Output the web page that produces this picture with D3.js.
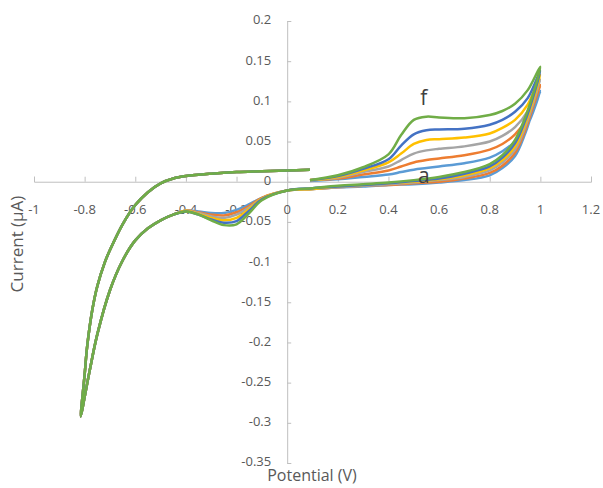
<!DOCTYPE html>
<html>
<head>
<meta charset="utf-8">
<script src="https://cdn.jsdelivr.net/npm/d3@7"></script>
<style>
  body { margin: 0; background: #fff; }
  text { font-family: "Open Sans", sans-serif; fill: #595959; }
</style>
</head>
<body>
<script>
// cyclic voltammograms a..f, potential in V, current in uA

var width = 603;
var height = 488;

var seriesNames = ['a', 'b', 'c', 'd', 'e', 'f'];
var seriesColors = ['#5B9BD5', '#ED7D31', '#A5A5A5', '#FFC000', '#4472C4', '#70AD47'];

var xTicks = [-1, -0.8, -0.6, -0.4, -0.2, 0, 0.2, 0.4, 0.6, 0.8, 1, 1.2];
var yTicks = [0.2, 0.15, 0.1, 0.05, 0, -0.05, -0.1, -0.15, -0.2, -0.25, -0.3, -0.35];

// forward scan 0.09 -> 1.0
var forwardE = [0.09, 0.2, 0.3, 0.4, 0.45, 0.5, 0.55, 0.6, 0.7, 0.8, 0.85, 0.9, 0.95, 1.0];
var forwardI = [
  [0.001, 0.003, 0.006, 0.009, 0.012, 0.015, 0.017, 0.019, 0.023, 0.030, 0.038, 0.050, 0.071, 0.113],
  [0.002, 0.004, 0.009, 0.014, 0.019, 0.024, 0.027, 0.029, 0.033, 0.040, 0.047, 0.059, 0.080, 0.120],
  [0.002, 0.005, 0.012, 0.019, 0.027, 0.035, 0.039, 0.041, 0.044, 0.050, 0.057, 0.068, 0.088, 0.127],
  [0.002, 0.006, 0.014, 0.024, 0.035, 0.047, 0.052, 0.053, 0.055, 0.060, 0.067, 0.077, 0.096, 0.133],
  [0.002, 0.007, 0.016, 0.028, 0.045, 0.059, 0.064, 0.065, 0.066, 0.071, 0.077, 0.087, 0.104, 0.138],
  [0.002, 0.008, 0.018, 0.034, 0.058, 0.077, 0.081, 0.080, 0.079, 0.083, 0.088, 0.097, 0.114, 0.143]
];

// reverse scan 0.97 -> -0.4 (per curve)
var reverseE = [0.97, 0.94, 0.9, 0.85, 0.8, 0.7, 0.6, 0.5, 0.4, 0.3, 0.2, 0.1, 0.0,
  -0.1, -0.15, -0.2, -0.25, -0.3, -0.35, -0.4];
var reverseI = [
  [0.088, 0.060, 0.032, 0.017, 0.008, 0.002, -0.001, -0.003, -0.004, -0.006, -0.007, -0.009, -0.011,
   -0.020, -0.028, -0.035, -0.039, -0.039, -0.037, -0.036],
  [0.092, 0.064, 0.036, 0.020, 0.011, 0.004, 0.000, -0.002, -0.004, -0.005, -0.007, -0.009, -0.011,
   -0.020, -0.030, -0.038, -0.042, -0.041, -0.038, -0.036],
  [0.096, 0.068, 0.040, 0.024, 0.014, 0.006, 0.002, -0.001, -0.003, -0.005, -0.007, -0.009, -0.011,
   -0.021, -0.032, -0.041, -0.045, -0.043, -0.039, -0.036],
  [0.100, 0.072, 0.044, 0.027, 0.017, 0.008, 0.003, 0.000, -0.002, -0.004, -0.006, -0.009, -0.011,
   -0.021, -0.034, -0.045, -0.048, -0.045, -0.040, -0.036],
  [0.104, 0.076, 0.048, 0.030, 0.019, 0.010, 0.004, 0.001, -0.002, -0.004, -0.006, -0.008, -0.011,
   -0.022, -0.036, -0.049, -0.051, -0.047, -0.041, -0.037],
  [0.108, 0.080, 0.052, 0.033, 0.022, 0.012, 0.006, 0.002, -0.001, -0.003, -0.005, -0.008, -0.011,
   -0.023, -0.039, -0.053, -0.054, -0.048, -0.041, -0.037]
];

// common cathodic tail -0.45 -> -0.815
var tailE = [-0.45, -0.5, -0.55, -0.6, -0.65, -0.7, -0.75, -0.78, -0.8, -0.815];
var tailI = [-0.041, -0.048, -0.058, -0.073, -0.098, -0.135, -0.19, -0.235, -0.268, -0.292];

// return scan -0.8 -> 0.09 (common)
var returnE = [-0.8, -0.79, -0.77, -0.75, -0.72, -0.7, -0.65, -0.6, -0.55, -0.5, -0.45, -0.4, -0.3, -0.2, -0.1, 0, 0.09];
var returnI = [-0.24, -0.205, -0.16, -0.13, -0.1, -0.085, -0.053, -0.029, -0.013, -0.002, 0.004, 0.007, 0.010, 0.012, 0.013, 0.014, 0.015];

var svg = d3.select('body').append('svg')
  .attr('width', width)
  .attr('height', height);

var x = d3.scaleLinear().domain([-1, 1.2]).range([34, 591]);
var y = d3.scaleLinear().domain([-0.35, 0.2]).range([463, 21]);

// axes
svg.append('g').attr('transform', 'translate(0,' + y(0) + ')')
  .call(d3.axisTop(x).tickValues(xTicks).tickSize(5).tickFormat(''));
svg.append('g').attr('transform', 'translate(' + x(0) + ',0)')
  .call(d3.axisRight(y).tickValues(yTicks).tickSize(4).tickFormat(''));
svg.selectAll('.domain, .tick line').attr('stroke', '#BFBFBF');

svg.append('g').selectAll('text').data(xTicks).enter().append('text')
  .attr('x', function(d){ return x(d); })
  .attr('y', y(0) + 29)
  .attr('text-anchor', 'middle')
  .attr('dominant-baseline', 'middle')
  .attr('font-size', 13)
  .text(function(d){ return d; });

svg.append('g').selectAll('text').data(yTicks).enter().append('text')
  .attr('x', x(0) - 16)
  .attr('y', function(d){ return y(d); })
  .attr('text-anchor', 'end')
  .attr('dominant-baseline', 'middle')
  .attr('font-size', 13)
  .text(function(d){ return d; });

svg.append('text')
  .attr('x', 312).attr('y', 477)
  .attr('text-anchor', 'middle')
  .attr('dominant-baseline', 'middle')
  .attr('font-size', 16)
  .text('Potential (V)');

svg.append('text')
  .attr('transform', 'translate(18,244) rotate(-90)')
  .attr('text-anchor', 'middle')
  .attr('dominant-baseline', 'middle')
  .attr('font-size', 17)
  .text('Current (μA)');

// build each full cycle
var cycles = seriesNames.map(function(name, i){
  var pts = [];
  forwardE.forEach(function(e, j){ pts.push([e, forwardI[i][j]]); });
  reverseE.forEach(function(e, j){ pts.push([e, reverseI[i][j]]); });
  tailE.forEach(function(e, j){ pts.push([e, tailI[j]]); });
  returnE.forEach(function(e, j){ pts.push([e, returnI[j]]); });
  return {name: name, color: seriesColors[i], points: pts};
});

var line = d3.line()
  .x(function(d){ return x(d[0]); })
  .y(function(d){ return y(d[1]); })
  .curve(d3.curveCatmullRom.alpha(0.5));

svg.append('g').selectAll('path').data(cycles).enter().append('path')
  .attr('d', function(d){ return line(d.points); })
  .attr('fill', 'none')
  .attr('stroke', function(d){ return d.color; })
  .attr('stroke-width', 2.5)
  .attr('stroke-linejoin', 'round');

// series labels
svg.append('text').attr('x', x(0.54)).attr('y', y(0.103))
  .attr('text-anchor', 'middle').attr('dominant-baseline', 'middle')
  .attr('font-size', 21).style('fill', '#404040').text('f');
svg.append('text').attr('x', x(0.54)).attr('y', y(0.005))
  .attr('text-anchor', 'middle').attr('dominant-baseline', 'middle')
  .attr('font-size', 21).style('fill', '#404040').text('a');
</script>
</body>
</html>
